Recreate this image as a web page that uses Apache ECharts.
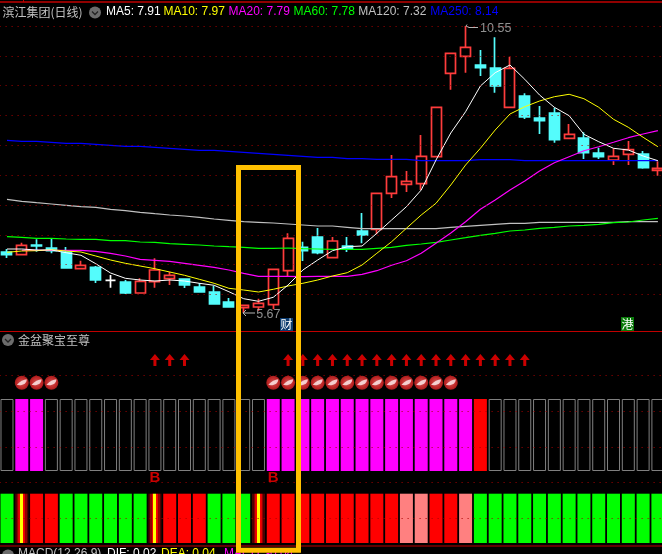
<!DOCTYPE html>
<html><head><meta charset="utf-8">
<style>html,body{margin:0;padding:0;background:#000;overflow:hidden}#c{width:662px;height:554px}</style>
<script src="https://cdn.jsdelivr.net/npm/echarts@6/dist/echarts.min.js"></script>
</head><body><div id="c"></div>
<script>
const open  = [6.708,6.662,6.825,6.776,6.708,6.424,6.448,6.224,6.198,6.011,6.203,6.254,6.249,6.113,6.028,5.858,5.761,5.773,5.812,6.39,6.788,6.963,6.611,6.81,7.065,7.094,7.706,7.859,7.869,8.328,9.746,10.035,9.887,9.836,9.168,9.36,8.986,9.071,8.641,8.646,8.391,8.272,8.369,8.374,8.097];
const close = [6.662,6.822,6.81,6.73,6.436,6.482,6.232,6.224,6.011,6.21,6.402,6.312,6.147,6.028,5.824,5.773,5.802,5.836,6.414,6.941,6.73,6.696,6.895,6.759,6.997,7.706,7.99,7.91,8.335,9.168,10.086,10.188,9.841,9.53,9.831,9.003,8.94,8.617,8.709,8.396,8.328,8.335,8.447,8.141,8.131];
const low   = [6.606,6.662,6.713,6.686,6.436,6.424,6.181,6.101,5.994,6.011,6.101,6.147,6.096,6.028,5.824,5.773,5.67,5.71,5.734,6.30,6.555,6.669,6.611,6.708,6.856,7.009,7.626,7.728,7.762,8.328,9.467,9.756,9.70,9.416,9.168,8.969,8.714,8.566,8.629,8.289,8.289,8.187,8.187,8.124,8.005];
const high  = [6.759,6.866,6.924,6.934,6.793,6.56,6.47,6.317,6.232,6.261,6.601,6.373,6.261,6.181,6.13,5.926,5.802,5.914,6.414,7.026,6.883,7.116,6.963,6.963,7.371,7.706,8.357,8.085,8.697,9.168,10.086,10.55,10.142,10.358,10.028,9.406,9.19,9.161,8.884,8.743,8.481,8.471,8.595,8.425,8.25];
const ma5   = [6.759,6.759,6.742,6.742,6.696,6.652,6.509,6.351,6.261,6.232,6.215,6.232,6.215,6.176,6.142,6.033,5.914,5.870,5.938,6.147,6.402,6.572,6.730,6.798,6.81,7.026,7.252,7.478,7.762,8.272,8.731,9.093,9.53,9.756,9.887,9.644,9.377,9.168,9.025,8.709,8.583,8.471,8.442,8.34,8.26];
const ma10  = [6.703,6.725,6.730,6.747,6.725,6.708,6.64,6.572,6.516,6.47,6.424,6.368,6.312,6.244,6.176,6.091,6.062,6.028,6.074,6.13,6.176,6.232,6.30,6.356,6.487,6.686,6.883,7.111,7.337,7.536,7.847,8.187,8.471,8.782,9.054,9.178,9.275,9.348,9.389,9.314,9.168,8.964,8.828,8.658,8.498];
const ma20  = [null,6.737,6.737,6.737,6.737,6.737,6.720,6.686,6.64,6.584,6.567,6.55,6.516,6.482,6.448,6.402,6.346,6.295,6.295,6.295,6.288,6.295,6.295,6.295,6.329,6.39,6.482,6.56,6.686,6.856,7.031,7.223,7.434,7.592,7.762,7.915,8.085,8.226,8.328,8.430,8.498,8.573,8.651,8.714,8.770];
const ma60  = [6.968,6.958,6.941,6.941,6.929,6.924,6.924,6.900,6.900,6.878,6.873,6.849,6.839,6.827,6.81,6.798,6.788,6.771,6.771,6.776,6.764,6.759,6.754,6.754,6.754,6.771,6.788,6.822,6.844,6.873,6.912,6.951,6.992,7.026,7.065,7.082,7.111,7.128,7.15,7.162,7.179,7.206,7.218,7.252,7.281];
const ma120 = [7.604,7.57,7.546,7.524,7.502,7.478,7.468,7.434,7.41,7.383,7.359,7.337,7.32,7.298,7.269,7.247,7.223,7.213,7.201,7.184,7.167,7.15,7.15,7.128,7.104,7.104,7.104,7.104,7.104,7.104,7.128,7.145,7.162,7.179,7.196,7.196,7.213,7.213,7.213,7.213,7.213,7.213,7.223,7.223,7.223];
const ma250 = [8.607,8.590,8.590,8.573,8.556,8.556,8.539,8.522,8.505,8.505,8.488,8.471,8.454,8.437,8.437,8.420,8.403,8.386,8.369,8.352,8.335,8.318,8.318,8.294,8.294,8.284,8.284,8.284,8.260,8.260,8.260,8.260,8.277,8.277,8.277,8.260,8.260,8.260,8.260,8.260,8.260,8.260,8.260,8.260,8.260];
const priceLevels = [10.55,10.043,9.537,9.030,8.524,8.017,7.51,7.004,6.497,5.991];
const panelLevels = [42,78,114,149,185];
// g grey outline, m magenta, r red
const topStrip = ('g'+'mm'+'ggggggggggggggg'+'mmmmmmmmmmmmmm'+'r'+'gggggggggggg').split('');
// G green, R red, P pink, F flash
const botStrip = ('G'+'F'+'RR'+'GGGGGG'+'F'+'RRR'+'GGG'+'F'+'RRRRRRRRR'+'PP'+'RR'+'P'+'GGGGGGGGGGGGG').split('');
const arrowIdx = [10,11,12,19,20,21,22,23,24,25,26,27,28,29,30,31,32,33,34,35];
const ballIdx  = [1,2,3,18,19,20,21,22,23,24,25,26,27,28,29,30];
const bIdx     = [10,18];
const categories = open.map((_, i) => String(i + 1));

const RED = '#ff3c3c', CYAN = '#54fcfc', DOT = '#a80000';
const candleData = open.map((o, i) => {
  const v = [o, close[i], low[i], high[i]];
  return i === 7 ? {value: v, itemStyle: {color: '#fff', color0: '#fff', borderColor: '#fff', borderColor0: '#fff'}} : v;
});
const flash = {type: 'linear', x: 0, y: 0, x2: 1, y2: 0, colorStops: [
  {offset: 0, color: '#500000'}, {offset: .12, color: '#500000'}, {offset: .12, color: '#900000'}, {offset: .24, color: '#900000'},
  {offset: .24, color: '#d80000'}, {offset: .38, color: '#ff0000'}, {offset: .38, color: '#ff0000'}, {offset: .39, color: '#ffff00'},
  {offset: .61, color: '#ffff00'}, {offset: .62, color: '#ff0000'}, {offset: .76, color: '#d80000'}, {offset: .76, color: '#900000'},
  {offset: .88, color: '#900000'}, {offset: .88, color: '#500000'}, {offset: 1, color: '#500000'}]};
const botColor = {G: '#00ff00', R: '#ff0000', P: '#ff8080', F: flash};
const maLine = (name, data, color, width) => ({name, type: 'line', data, xAxisIndex: 0, yAxisIndex: 0, showSymbol: false, symbol: 'none',
  lineStyle: {color, width: width || 1}, z: 3, silent: true, connectNulls: false, animation: false});
const levelLine = (levels, axis) => ({type: 'line', data: [], xAxisIndex: axis, yAxisIndex: axis, z: 1, silent: true,
  markLine: {silent: true, symbol: 'none', animation: false, label: {show: false},
    lineStyle: {color: DOT, width: 1, type: [1, 5]}, data: levels.map(v => ({yAxis: v}))}});
const stackBar = (data) => ({type: 'bar', stack: 's', xAxisIndex: 1, yAxisIndex: 1, barWidth: 13, data, z: 2, silent: true});
const base = v => categories.map(() => ({value: v, itemStyle: {color: 'transparent'}}));
const txt = (x, y, text, fill, font) => ({type: 'text', x, y, silent: true, z: 20, style: {text, fill, font: font || '12px "Liberation Sans"', textVerticalAlign: 'middle'}});
const cn = '12px "Noto Sans CJK SC"';
const icon = (cx, cy) => [
  {type: 'circle', shape: {cx, cy, r: 6}, style: {fill: '#6c6c6c'}, z: 20, silent: true},
  {type: 'polyline', shape: {points: [[cx - 3, cy - 1], [cx, cy + 2], [cx + 3, cy - 1]]}, style: {stroke: '#222', lineWidth: 1.3, fill: null}, z: 21, silent: true}];
const hline = (y, w) => ({type: 'line', shape: {x1: 0, y1: y, x2: 662, y2: y}, style: {stroke: '#c00000', lineWidth: w || 1}, z: 10, silent: true});
const axisOff = {show: false};

const chart = echarts.init(document.getElementById('c'), null, {renderer: 'canvas'});
chart.setOption({
  animation: false, backgroundColor: '#000',
  grid: [
    {left: -0.4, width: 665.7, top: 20, height: 312, outerBoundsMode: 'none'},
    {left: -0.4, width: 665.7, top: 333, height: 213, outerBoundsMode: 'none'}
  ],
  xAxis: [
    {type: 'category', data: categories, gridIndex: 0, ...axisOff},
    {type: 'category', data: categories, gridIndex: 1, ...axisOff}
  ],
  yAxis: [
    {type: 'value', gridIndex: 0, min: 5.348, max: 10.652, scale: true, ...axisOff},
    {type: 'value', gridIndex: 1, min: 0, max: 213, inverse: true, ...axisOff}
  ],
  series: [
    levelLine(priceLevels, 0),
    {type: 'candlestick', data: candleData, xAxisIndex: 0, yAxisIndex: 0, barWidth: 10.5, z: 2, silent: true,
      itemStyle: {color: '#000', color0: CYAN, borderColor: RED, borderColor0: CYAN, borderWidth: 1.7}},
    maLine('MA120', ma120, '#c0c0c0', 1.2),
    maLine('MA60', ma60, '#00ff00', 1.2),
    maLine('MA250', ma250, '#0000ff', 1.3),
    maLine('MA20', ma20, '#ff00ff', 1.2),
    maLine('MA10', ma10, '#ffff00'),
    maLine('MA5', ma5, '#ffffff'),
    {type: 'scatter', xAxisIndex: 0, yAxisIndex: 0, data: [[31, 10.55]], symbolSize: 1, itemStyle: {color: 'transparent'}, silent: true, z: 6,
      label: {show: true, position: 'right', offset: [9, 3], formatter: '10.55', color: '#b4b4b4', fontSize: 12.5, fontFamily: 'Liberation Sans'}},
    {type: 'scatter', xAxisIndex: 0, yAxisIndex: 0, data: [[16, 5.67]], symbolSize: 1, itemStyle: {color: 'transparent'}, silent: true, z: 6,
      label: {show: true, position: 'right', offset: [7, 1], formatter: '5.67', color: '#b4b4b4', fontSize: 12.5, fontFamily: 'Liberation Sans'}},
    levelLine(panelLevels, 1),
    stackBar(base(66)),
    stackBar(topStrip.map(s => ({value: 72, itemStyle: s === 'g'
      ? {color: '#000', borderColor: '#808080', borderWidth: 1}
      : {color: s === 'm' ? '#ff00ff' : '#ff0000'}}))),
    stackBar(base(22.7)),
    stackBar(botStrip.map(s => ({value: 49.3, itemStyle: {color: botColor[s]}}))),
    {type: 'scatter', xAxisIndex: 1, yAxisIndex: 1, data: arrowIdx.map(i => [i, 27]), silent: true, z: 5,
      symbol: 'path://M5 0L10 6L6.5 6L6.5 12L3.5 12L3.5 6L0 6Z', symbolSize: [10, 12], itemStyle: {color: '#ff0000'}},
    {type: 'scatter', xAxisIndex: 1, yAxisIndex: 1, data: ballIdx.map(i => [i, 49.7]), silent: true, z: 5,
      symbol: 'circle', symbolSize: 14,
      itemStyle: {color: {type: 'radial', x: .5, y: .5, r: .55, colorStops: [{offset: 0, color: '#ff7070'}, {offset: .65, color: '#f03030'}, {offset: 1, color: '#c42020'}]}}},
    {type: 'scatter', xAxisIndex: 1, yAxisIndex: 1, data: ballIdx.map(i => [i, 49.2]), silent: true, z: 6,
      symbol: 'path://M0 6C3 3 7 1 10 1C10 3 9 4 8 5C6 6 3 7 0 6Z', symbolSize: [10, 6], itemStyle: {color: '#fff0f0'}},
    {type: 'scatter', xAxisIndex: 1, yAxisIndex: 1, data: bIdx.map(i => [i, 145.3]), silent: true, z: 6, symbolSize: 1, itemStyle: {color: 'transparent'},
      label: {show: true, position: 'inside', formatter: 'B', color: '#ff0000', fontSize: 15, fontWeight: 'bold', fontFamily: 'Liberation Sans'}}
  ],
  graphic: [
    hline(2, 1.5), hline(331.5, 1), hline(546, 1.2),
    {type: 'line', shape: {x1: 23.5, y1: 0, x2: 23.5, y2: 2}, style: {stroke: '#c00000', lineWidth: 1}, z: 10, silent: true},
    txt(2.5, 12.5, '滨江集团(日线)', '#c0c0c0', cn),
    ...icon(95, 12.5),
    txt(106, 12, 'MA5: 7.91', '#ffffff'),
    txt(163.5, 12, 'MA10: 7.97', '#ffff00'),
    txt(228.5, 12, 'MA20: 7.79', '#ff00ff'),
    txt(293.5, 12, 'MA60: 7.78', '#00ff00'),
    txt(358.3, 12, 'MA120: 7.32', '#c0c0c0'),
    txt(430.3, 12, 'MA250: 8.14', '#0000ff'),
    ...icon(8, 340),
    txt(18, 340.5, '金盆聚宝至尊', '#c0c0c0', cn),
    ...icon(8, 555.5),
    txt(18, 554, 'MACD(12,26,9)', '#c0c0c0'),
    txt(107, 554, 'DIF: 0.02', '#ffffff'),
    txt(161, 554, 'DEA: 0.04', '#ffff00'),
    txt(224, 554, 'MACD: -0.04', '#ff00ff'),
    {type: 'polyline', shape: {points: [[467, 24.5], [466, 26], [469, 27.5], [478, 27.5]]}, style: {stroke: '#b4b4b4', lineWidth: 1, fill: null}, z: 9, silent: true},
    {type: 'polyline', shape: {points: [[246, 310], [243, 313], [246, 316], [243, 313], [255, 313]]}, style: {stroke: '#b4b4b4', lineWidth: 1, fill: null}, z: 9, silent: true},
    {type: 'rect', shape: {x: 280, y: 318, width: 13, height: 13}, style: {fill: '#0a3a6e'}, z: 9, silent: true},
    txt(280.5, 324.5, '财', '#ffffff', cn),
    {type: 'rect', shape: {x: 621, y: 317, width: 13, height: 14}, style: {fill: '#0a7a0a'}, z: 9, silent: true},
    txt(621.5, 324, '港', '#ffffff', cn),
    {type: 'rect', shape: {x: 238.5, y: 167.5, width: 60, height: 382.8}, style: {fill: null, stroke: '#ffc000', lineWidth: 5}, z: 30, silent: true}
  ]
});
</script></body></html>
